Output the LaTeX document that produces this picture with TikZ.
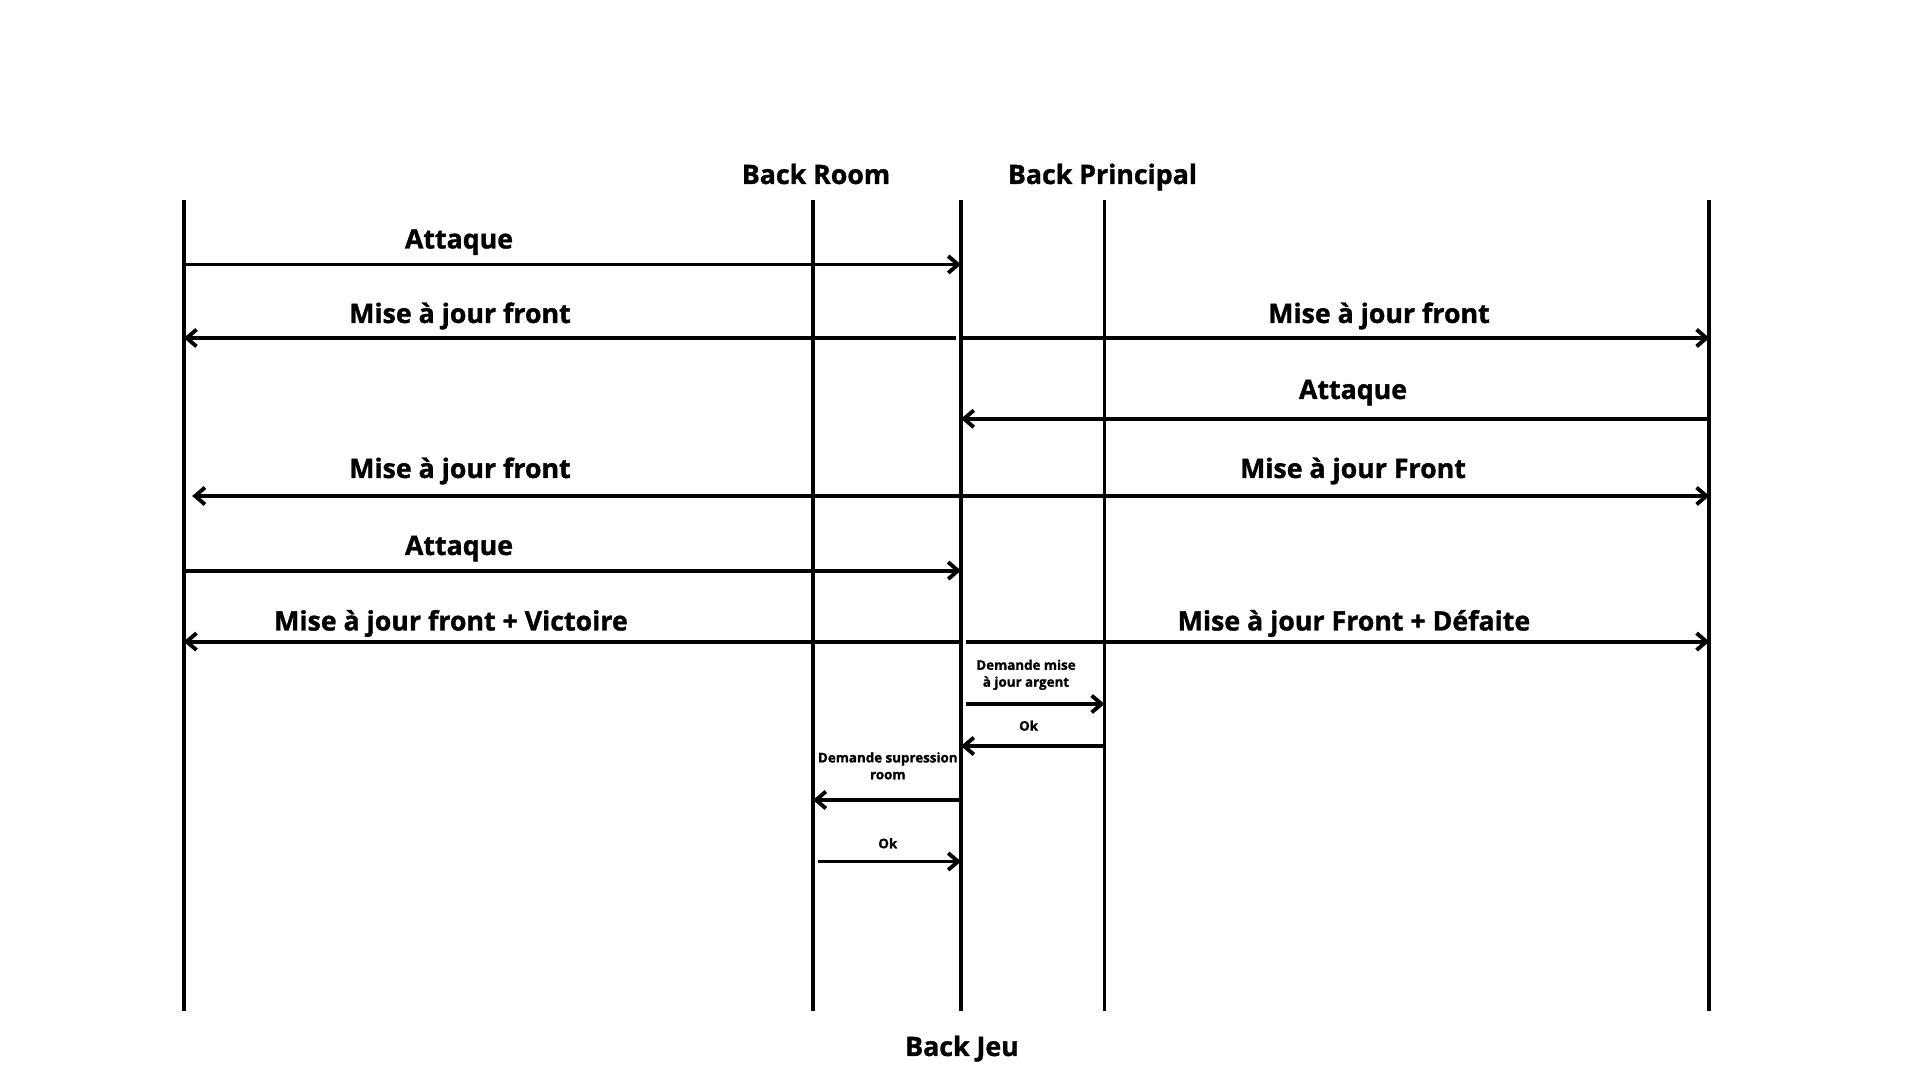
\documentclass[tikz,border=0pt]{standalone}
\usepackage{fontspec}
\setmainfont{Open Sans}[BoldFeatures={FakeBold=1.2}]
\usetikzlibrary{arrows.meta}

\tikzset{
    life/.style={line width=1.1pt},
    msg/.style={line width=1.1pt, -{Straight Barb[length=2.8pt,width=4.8pt]}},
    dmsg/.style={line width=1.1pt, {Straight Barb[length=2.8pt,width=4.8pt]}-{Straight Barb[length=2.8pt,width=4.8pt]}},
    big/.style={font=\fontsize{7.6}{9}\selectfont\bfseries, anchor=base, inner sep=0pt},
    small/.style={font=\fontsize{3.8}{4.8}\selectfont\bfseries, anchor=base, inner sep=0pt, align=center},
}

\begin{document}
\begin{tikzpicture}[x=0.01cm, y=-0.01cm]
    \useasboundingbox[fill=white] (0,0) rectangle (1920,1080);

    \foreach \n/\x in {p1/183.7, room/813, jeu/961, princ/1104.5, p2/1709.4} {
        \coordinate (\n) at (\x,199.6);
        \coordinate (\n b) at (\x,1011.5);
        \draw[life] (\n) -- (\n b);
    }

    \node[big] (hroom) at (816,184) {Back Room};
    \node[big] (hprinc) at (1102.5,184) {Back Principal};
    \node[big] (hjeu) at (962,1056) {Back Jeu};

    \foreach \m/\y in {m1/264.5, m2/338, m3/418.8, m4/496, m5/570.6, m6/641.6, m7/704, m8/746, m9/800, m10/861.5}
        \coordinate (\m) at (0,\y);

    \draw[msg] (p1 |- m1) -- (jeu |- m1);
    \node[big] (t1) at (459,248.5) {Attaque};

    \draw[msg, shorten <=1.4pt] (jeu |- m2) -- (p1 |- m2);
    \draw[msg] (jeu |- m2) -- (p2 |- m2);
    \node[big] (t2a) at (460,323) {Mise à jour front};
    \node[big] (t2b) at (1379,323) {Mise à jour front};

    \draw[msg] (p2 |- m3) -- (jeu |- m3);
    \node[big] (t3) at (1353,399) {Attaque};

    \draw[dmsg, shorten <=2.4pt] (p1 |- m4) -- (p2 |- m4);
    \node[big] (t4a) at (460,478) {Mise à jour front};
    \node[big] (t4b) at (1353,478) {Mise à jour Front};

    \draw[msg] (p1 |- m5) -- (jeu |- m5);
    \node[big] (t5) at (459,555) {Attaque};

    \draw[msg] (jeu |- m6) -- (p1 |- m6);
    \draw[msg, shorten <=1.4pt] (jeu |- m6) -- (p2 |- m6);
    \node[big] (t6a) at (451,630.5) {Mise à jour front + Victoire};
    \node[big] (t6b) at (1354,630.5) {Mise à jour Front + Défaite};

    \draw[msg, shorten <=1.4pt] (jeu |- m7) -- (princ |- m7);
    \node[small] (t7) at (1026,686.7) {Demande mise\\à jour argent};

    \draw[msg] (princ |- m8) -- (jeu |- m8);
    \node[small] (t8) at (1028.6,730.7) {Ok};

    \draw[msg] (jeu |- m9) -- (room |- m9);
    \node[small] (t9) at (887.8,779.3) {Demande supression\\room};

    \draw[msg, shorten <=1.4pt] (room |- m10) -- (jeu |- m10);
    \node[small] (t10) at (887.8,848.3) {Ok};
\end{tikzpicture}
\end{document}
